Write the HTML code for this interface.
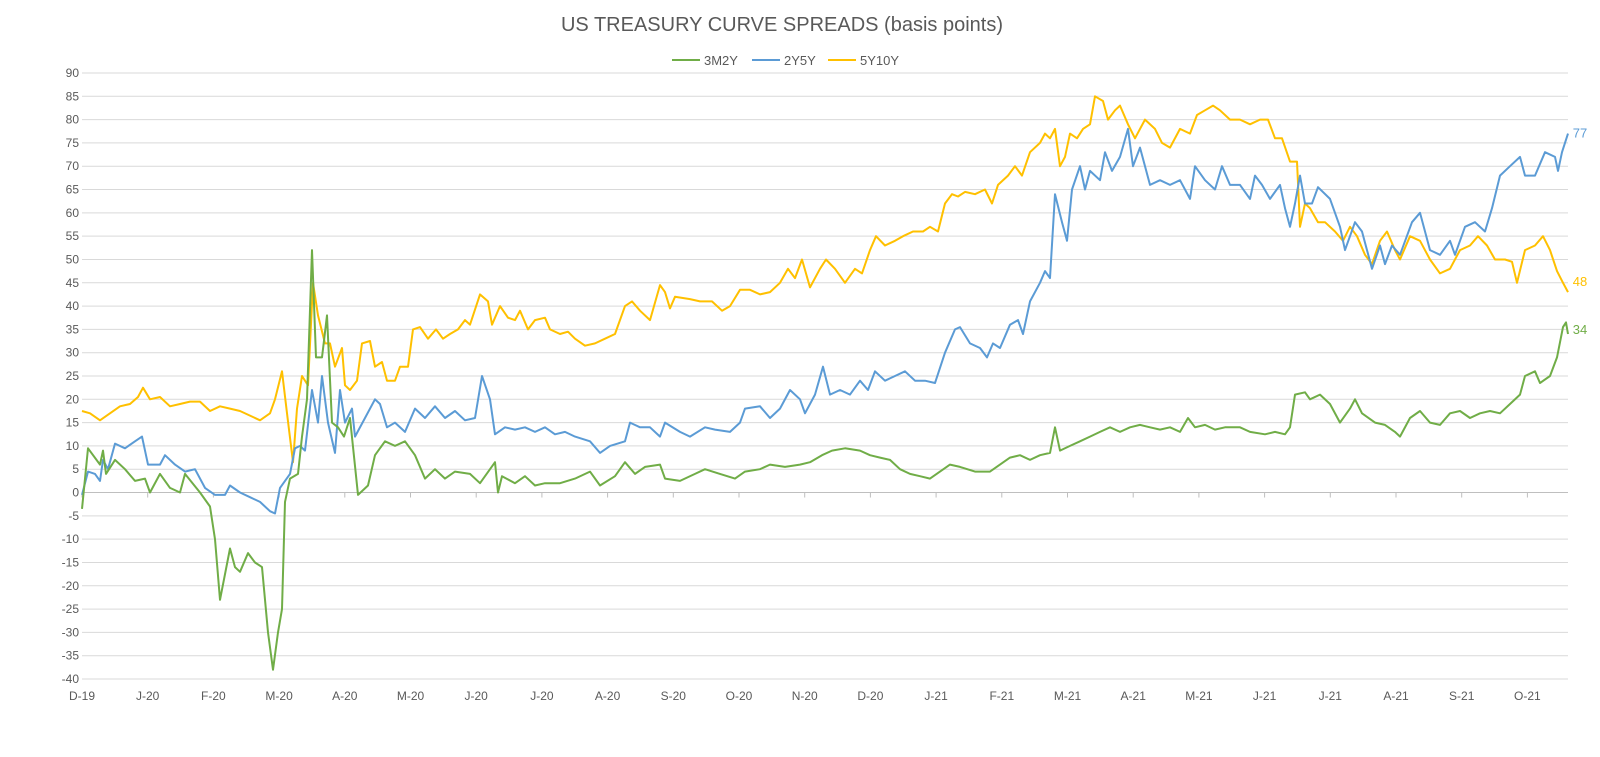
<!DOCTYPE html>
<html><head><meta charset="utf-8">
<style>
html,body{margin:0;padding:0;background:#fff;}
body{width:1600px;height:752px;overflow:hidden;font-family:"Liberation Sans",sans-serif;}
svg text{font-family:"Liberation Sans",sans-serif;}
</style></head>
<body>
<svg id="chart" width="1600" height="752">
<text x="782" y="31" text-anchor="middle" font-size="20" fill="#595959">US TREASURY CURVE SPREADS (basis points)</text>
<g>
<g><line x1="672" y1="60" x2="700" y2="60" stroke="#70ad47" stroke-width="2"/><text x="704" y="65" font-size="13" fill="#595959">3M2Y</text></g>
<g><line x1="752" y1="60" x2="780" y2="60" stroke="#5b9bd5" stroke-width="2"/><text x="784" y="65" font-size="13" fill="#595959">2Y5Y</text></g>
<g><line x1="828" y1="60" x2="856" y2="60" stroke="#ffc000" stroke-width="2"/><text x="860" y="65" font-size="13" fill="#595959">5Y10Y</text></g>
</g>
<g id="grid"></g>
<g id="yaxis"></g>
<g id="xaxis"></g>
<g id="series"></g>
<g id="endlabels"></g>
</svg>
<script>
const yTicks=[90,85,80,75,70,65,60,55,50,45,40,35,30,25,20,15,10,5,0,-5,-10,-15,-20,-25,-30,-35,-40];
const monthLabels=["D-19","J-20","F-20","M-20","A-20","M-20","J-20","J-20","A-20","S-20","O-20","N-20","D-20","J-21","F-21","M-21","A-21","M-21","J-21","J-21","A-21","S-21","O-21"];
const seriesNames=["3M2Y","2Y5Y","5Y10Y"];
const lastValues=[34,77,48];
const green3m2y=[[0,-3.5],[6,9.5],[18,6],[21,9],[24,4],[33,7],[43,5],[53,2.5],[63,3],[68,0],[78,4],[88,1],[98,0],[103,4],[118,0],[128,-3],[133,-10],[138,-23],[148,-12],[153,-16],[158,-17],[166,-13],[173,-15],[180,-16],[186,-30],[191,-38],[196,-30],[200,-25],[203,-2],[208,3],[216,4],[220,12],[225,20],[230,52],[234,29],[240,29],[245,38],[250,15],[256,14],[262,12],[268,16],[276,-0.5],[286,1.5],[293,8],[303,11],[313,10],[323,11],[333,8],[343,3],[353,5],[363,3],[373,4.5],[388,4],[398,2],[408,5],[413,6.5],[416,0],[420,3.5],[433,2],[443,3.5],[453,1.5],[463,2],[478,2],[493,3],[508,4.5],[518,1.5],[533,3.5],[543,6.5],[553,4],[563,5.5],[578,6],[583,3],[598,2.5],[613,4],[623,5],[638,4],[653,3],[663,4.5],[678,5],[688,6],[703,5.5],[718,6],[728,6.5],[740,8],[750,9],[763,9.5],[778,9],[788,8],[798,7.5],[808,7],[818,5],[828,4],[838,3.5],[848,3],[858,4.5],[868,6],[878,5.5],[893,4.5],[908,4.5],[918,6],[928,7.5],[938,8],[948,7],[958,8],[968,8.5],[973,14],[978,9],[988,10],[998,11],[1008,12],[1018,13],[1028,14],[1038,13],[1048,14],[1058,14.5],[1068,14],[1078,13.5],[1088,14],[1098,13],[1106,16],[1113,14],[1123,14.5],[1133,13.5],[1143,14],[1158,14],[1168,13],[1183,12.5],[1193,13],[1203,12.5],[1208,14],[1213,21],[1223,21.5],[1228,20],[1238,21],[1248,19],[1258,15],[1268,18],[1273,20],[1280,17],[1293,15],[1303,14.5],[1313,13],[1318,12],[1328,16],[1338,17.5],[1348,15],[1358,14.5],[1368,17],[1378,17.5],[1388,16],[1398,17],[1408,17.5],[1418,17],[1428,19],[1438,21],[1443,25],[1453,26],[1458,23.5],[1468,25],[1475,29],[1481,35.5],[1484,36.5],[1486,34]];
const blue2y5y=[[0,-0.5],[6,4.5],[13,4],[18,2.5],[21,7],[26,5],[33,10.5],[43,9.5],[53,11],[60,12],[66,6],[78,6],[83,8],[93,6],[103,4.5],[113,5],[123,1],[133,-0.5],[143,-0.5],[148,1.5],[158,0],[168,-1],[178,-2],[188,-4],[193,-4.5],[198,1],[208,4],[213,9.5],[218,10],[223,9],[230,22],[236,15],[240,25],[246,15],[253,8.5],[258,22],[263,15],[270,18],[273,12],[283,16],[293,20],[298,19],[305,14],[313,15],[323,13],[333,18],[343,16],[353,18.5],[363,16],[373,17.5],[383,15.5],[393,16],[400,25],[408,20],[413,12.5],[423,14],[433,13.5],[443,14],[453,13],[463,14],[473,12.5],[483,13],[493,12],[508,11],[518,8.5],[528,10],[543,11],[548,15],[558,14],[568,14],[578,12],[583,15],[598,13],[608,12],[623,14],[633,13.5],[648,13],[658,15],[663,18],[678,18.5],[688,16],[698,18],[708,22],[718,20],[723,17],[733,21],[741,27],[748,21],[758,22],[768,21],[778,24],[786,22],[793,26],[803,24],[813,25],[823,26],[833,24],[843,24],[853,23.5],[863,30],[873,35],[878,35.5],[888,32],[898,31],[905,29],[911,32],[918,31],[928,36],[936,37],[941,34],[948,41],[958,45],[963,47.5],[968,46],[973,64],[980,58],[985,54],[990,65],[998,70],[1003,65],[1008,69],[1018,67],[1023,73],[1030,69],[1038,72],[1046,78],[1051,70],[1058,74],[1068,66],[1078,67],[1088,66],[1098,67],[1108,63],[1113,70],[1123,67],[1133,65],[1140,70],[1148,66],[1158,66],[1168,63],[1173,68],[1180,66],[1188,63],[1198,66],[1203,61],[1208,57],[1213,62],[1218,68],[1223,62],[1230,62],[1236,65.5],[1248,63],[1258,57],[1263,52],[1273,58],[1280,56],[1290,48],[1298,53],[1303,49],[1310,53],[1318,51],[1330,58],[1338,60],[1348,52],[1358,51],[1368,54],[1373,51],[1383,57],[1393,58],[1403,56],[1410,61],[1418,68],[1428,70],[1438,72],[1443,68],[1453,68],[1463,73],[1473,72],[1476,69],[1480,73],[1486,77]];
const yellow5y10y=[[0,17.5],[8,17],[18,15.5],[28,17],[38,18.5],[48,19],[56,20.5],[61,22.5],[68,20],[78,20.5],[88,18.5],[98,19],[108,19.5],[118,19.5],[128,17.5],[138,18.5],[148,18],[158,17.5],[168,16.5],[178,15.5],[188,17],[193,20],[200,26],[205,17],[211,6.5],[215,18],[220,25],[226,23],[231,45],[236,38],[243,32],[248,32],[253,27],[260,31],[263,23],[268,22],[275,24],[280,32],[288,32.5],[293,27],[300,28],[305,24],[313,24],[318,27],[326,27],[331,35],[338,35.5],[346,33],[354,35],[361,33],[368,34],[376,35],[383,37],[388,36],[398,42.5],[406,41],[410,36],[418,40],[426,37.5],[433,37],[438,39],[446,35],[453,37],[463,37.5],[468,35],[478,34],[486,34.5],[493,33],[503,31.5],[513,32],[523,33],[533,34],[543,40],[550,41],[558,39],[568,37],[578,44.5],[583,43],[588,39.5],[593,42],[608,41.5],[618,41],[630,41],[640,39],[648,40],[658,43.5],[668,43.5],[678,42.5],[688,43],[698,45],[706,48],[713,46],[720,50],[728,44],[738,48],[744,50],[753,48],[763,45],[773,48],[780,47],[788,52],[794,55],[803,53],[813,54],[821,55],[831,56],[841,56],[848,57],[856,56],[863,62],[870,64],[876,63.5],[883,64.5],[893,64],[903,65],[910,62],[916,66],[926,68],[933,70],[940,68],[948,73],[958,75],[963,77],[968,76],[973,78],[978,70],[983,72],[988,77],[995,76],[1001,78],[1008,79],[1013,85],[1021,84],[1026,80],[1033,82],[1038,83],[1046,79],[1053,76],[1063,80],[1073,78],[1080,75],[1088,74],[1098,78],[1108,77],[1115,81],[1123,82],[1131,83],[1138,82],[1148,80],[1158,80],[1168,79],[1178,80],[1186,80],[1193,76],[1200,76],[1208,71],[1215,71],[1218,57],[1223,62],[1228,61],[1236,58],[1243,58],[1253,56],[1261,54],[1268,57],[1275,55],[1283,51],[1290,49],[1298,54],[1305,56],[1313,52],[1318,50],[1328,55],[1338,54],[1348,50],[1358,47],[1368,48],[1378,52],[1388,53],[1396,55],[1405,53],[1413,50],[1423,50],[1430,49.5],[1435,45],[1443,52],[1453,53],[1461,55],[1468,52],[1475,47.5],[1481,45],[1486,43]];

const NS='http://www.w3.org/2000/svg';
const X0=82,X1=1568,Y0=73,Y1=679,VMAX=90,VMIN=-40,TMAX=1486,MONTH_T=65.7;
function xScale(t){return X0+(t/TMAX)*(X1-X0);}
function yScale(v){return Y0+(VMAX-v)/(VMAX-VMIN)*(Y1-Y0);}
function mk(tag,attrs,parent){const e=document.createElementNS(NS,tag);for(const k in attrs)e.setAttribute(k,attrs[k]);parent.appendChild(e);return e;}
const grid=document.getElementById('grid'),yax=document.getElementById('yaxis'),xax=document.getElementById('xaxis'),ser=document.getElementById('series'),endl=document.getElementById('endlabels');
yTicks.forEach(v=>{
  const y=yScale(v);
  const l=mk('line',{x1:X0,x2:X1,y1:y,y2:y,stroke:v===0?'#bfbfbf':'#d9d9d9','stroke-width':1},grid);
  
  
  const t=mk('text',{x:X0-3,y:y+4,'text-anchor':'end','font-size':12,fill:'#595959'},yax);
  t.textContent=v;
  
  
});
monthLabels.forEach((m,i)=>{
  const x=xScale(i*MONTH_T);
  const tk=mk('line',{x1:x,x2:x,y1:yScale(0),y2:yScale(0)+5,stroke:'#bfbfbf','stroke-width':1},xax);
  
  
  const t=mk('text',{x:x,y:700,'text-anchor':'middle','font-size':12,fill:'#595959'},xax);
  t.textContent=m;
  
  
});
const seriesData=[green3m2y,blue2y5y,yellow5y10y];
const colors=['#70ad47','#5b9bd5','#ffc000'];
const order=[2,1,0];
order.forEach(i=>{
  const d=seriesData[i].map((p,j)=>(j?'L':'M')+xScale(p[0]).toFixed(1)+','+yScale(p[1]).toFixed(1)).join(' ');
  const p=mk('path',{d:d,fill:'none',stroke:colors[i],'stroke-width':2,'stroke-linejoin':'round'},ser);
  
  
});
const labelOffsets=[-12,-8,5];
seriesData.forEach((s,i)=>{
  const last=s[s.length-1];
  const t=mk('text',{x:xScale(last[0])+12,y:yScale(lastValues[i])+labelOffsets[i]+12,'text-anchor':'middle','font-size':13,fill:colors[i]},endl);
  t.textContent=lastValues[i];
  
  
});
</script>
</body></html>
